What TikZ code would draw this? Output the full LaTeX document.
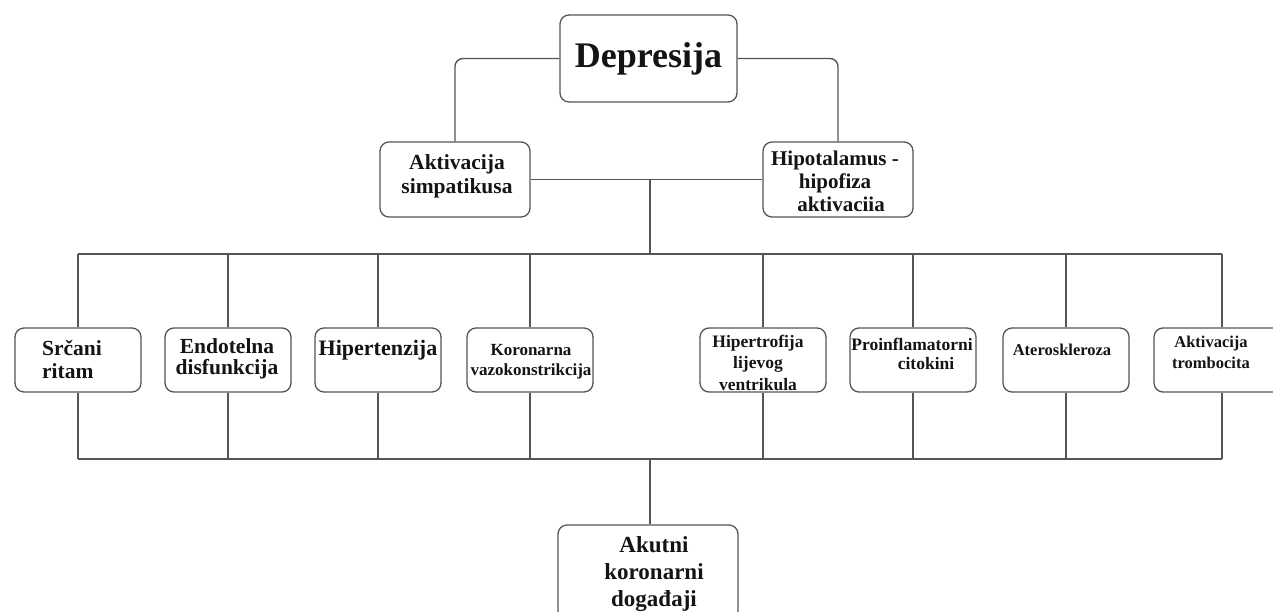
\documentclass[tikz,border=0pt]{standalone}
\usepackage{fontspec}
\setmainfont{Liberation Serif}
\usetikzlibrary{calc}
\definecolor{ln}{HTML}{555555}
\definecolor{tx}{HTML}{141414}
\newcommand{\mlc}[1]{\begin{tabular}[t]{@{}c@{}}#1\end{tabular}}
\newcommand{\mll}[1]{\begin{tabular}[t]{@{}l@{}}#1\end{tabular}}
\begin{document}
\begin{tikzpicture}[x=1pt,y=-1pt,
  box/.style={draw=ln, line width=1.3pt, rounded corners=9pt, fill=white, inner sep=0pt},
  bot/.style={box, minimum width=126pt, minimum height=64pt},
  conn/.style={draw=ln, line width=1.4pt},
  lbl/.style={inner sep=0pt, anchor=base, text=tx},
  fs/.style 2 args={font=\bfseries\fontsize{#1}{#2}\selectfont},
]
\fill[white] (0,0) rectangle (1273,612);
\useasboundingbox (0,0) rectangle (1273,612);

% boxes
\node[box, minimum width=177pt, minimum height=87pt] (dep) at (648.5,58.5) {};
\node[box, minimum width=150pt, minimum height=75pt] (akt) at (455,179.5) {};
\node[box, minimum width=150pt, minimum height=75pt] (hip) at (838,179.5) {};
\node[bot] (b1) at (78,360) {};
\node[bot] (b2) at (228,360) {};
\node[bot] (b3) at (378,360) {};
\node[bot] (b4) at (530,360) {};
\node[bot] (b5) at (763,360) {};
\node[bot] (b6) at (913,360) {};
\node[bot] (b7) at (1066,360) {};
\node[bot, minimum width=136pt] (b8) at (1222,360) {};
\node[box, minimum width=180pt, minimum height=100pt] (ak) at (648,575) {};

% helper coordinates
\coordinate (mid) at ($(akt.east)!0.5!(hip.west)$);
\coordinate (bt) at (650,254);
\coordinate (bb) at (650,459);

% connectors
\draw[conn, rounded corners=8pt] (dep.west) -| (akt.north);
\draw[conn, rounded corners=8pt] (dep.east) -| (hip.north);
\draw[conn] (akt.east) -- (hip.west);
\draw[conn] (mid -| bt) -- (bt);
\draw[conn] (b1.north |- bt) -- (b8.north |- bt);
\draw[conn] (b1.south |- bb) -- (b8.south |- bb);
\foreach \b in {b1,b2,b3,b4,b5,b6,b7,b8}{
  \draw[conn] (\b.north) -- (\b.north |- bt);
  \draw[conn] (\b.south) -- (\b.south |- bb);
}
\draw[conn] (bb) -- (bb |- ak.north);

% labels
\node[lbl, fs={36}{40}] (tdep) at (648.5,68) {Depresija};
\node[lbl, fs={21.5}{24}] (takt) at (457,170) {\mlc{Aktivacija\\simpatikusa}};
\node[lbl, fs={21}{23}] (thip) at (835,166) {\mlc{Hipotalamus -\\hipofiza\\\hspace*{12pt}aktivaciia}};
\node[lbl, fs={21.5}{23}] (t1) at (72,355) {\mll{Srčani\\ritam}};
\node[lbl, fs={21.5}{20.5}] (t2) at (227,353) {\mlc{Endotelna\\disfunkcija}};
\node[lbl, fs={22}{23}] (t3) at (378,355) {Hipertenzija};
\node[lbl, fs={17}{20}] (t4) at (531,355) {\mlc{Koronarna\\vazokonstrikcija}};
\node[lbl, fs={17.5}{21.5}] (t5) at (758,347) {\mlc{Hipertrofija\\lijevog\\ventrikula}};
\node[lbl, fs={17.5}{19}] (t6) at (912,350) {\mlc{Proinflamatorni\\\hspace*{28pt}citokini}};
\node[lbl, fs={16.5}{20}] (t7) at (1062,355) {Ateroskleroza};
\node[lbl, fs={16.5}{21}] (t8) at (1211,347) {\mlc{Aktivacija\\trombocita}};
\node[lbl, fs={23}{27}] (tak) at (654,552) {\mlc{Akutni\\koronarni\\događaji}};
\end{tikzpicture}
\end{document}
